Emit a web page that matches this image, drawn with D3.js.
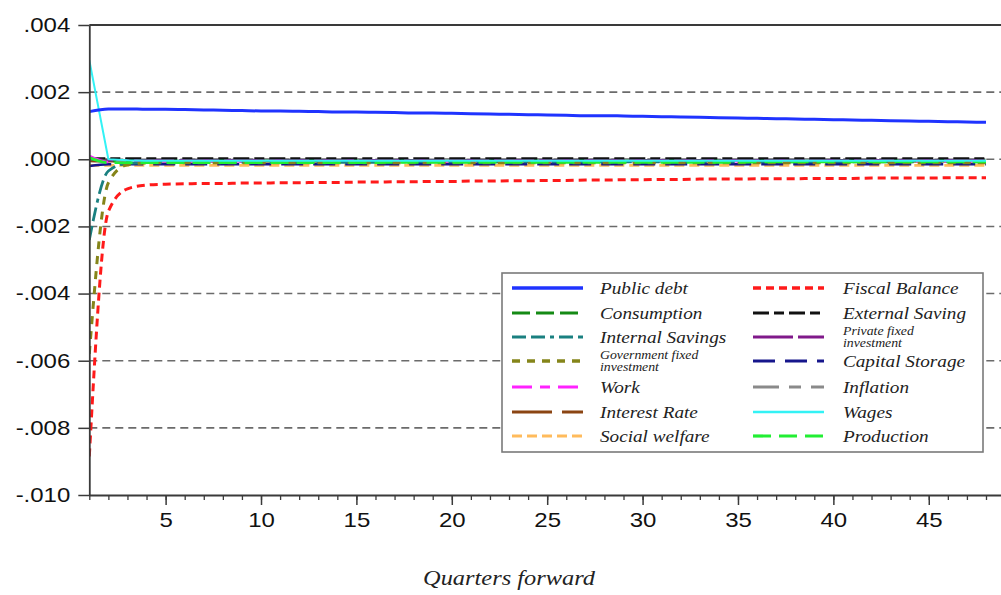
<!DOCTYPE html>
<html>
<head>
<meta charset="utf-8">
<script src="https://cdn.jsdelivr.net/npm/d3@7"></script>
<style>
html,body{margin:0;padding:0;background:#fff;overflow:hidden;}
svg{display:block;}
</style>
</head>
<body>
<svg id="chart" width="1001" height="595"></svg>
<script>
// ---------------- DATA ----------------
const quarters = d3.range(1, 49);
const yTickValues = [0.004, 0.002, 0.000, -0.002, -0.004, -0.006, -0.008, -0.010];
const yTickLabels = [".004", ".002", ".000", "-.002", "-.004", "-.006", "-.008", "-.010"];
const xTickValues = [5, 10, 15, 20, 25, 30, 35, 40, 45];
const xTickLabels = ["5", "10", "15", "20", "25", "30", "35", "40", "45"];
const gridValues = [0.002, 0.000, -0.002, -0.004, -0.006, -0.008];
const xAxisTitle = "Quarters forward";

const publicDebt = [0.00142,0.00150,0.00150,0.00149,0.00149,0.00148,0.00147,0.00146,0.00145,0.00144,
  0.00144,0.00143,0.00142,0.00141,0.00141,0.00140,0.00139,0.00138,0.00138,0.00137,
  0.00136,0.00135,0.00134,0.00133,0.00132,0.00131,0.00130,0.00130,0.00129,0.00128,
  0.00127,0.00126,0.00125,0.00124,0.00123,0.00122,0.00121,0.00120,0.00119,0.00118,
  0.00117,0.00116,0.00115,0.00114,0.00113,0.00112,0.00111,0.00110];
const fiscalBalance = [-0.00885,-0.00155,-0.00088,-0.00077,-0.00074,-0.00073,-0.00072,-0.00072,-0.00071,-0.00071,
  -0.00070,-0.00070,-0.00069,-0.00069,-0.00068,-0.00068,-0.00067,-0.00067,-0.00066,-0.00066,
  -0.00065,-0.00065,-0.00064,-0.00064,-0.00063,-0.00063,-0.00062,-0.00062,-0.00061,-0.00061,
  -0.00060,-0.00060,-0.00059,-0.00059,-0.00059,-0.00058,-0.00058,-0.00058,-0.00057,-0.00057,
  -0.00057,-0.00056,-0.00056,-0.00056,-0.00056,-0.00055,-0.00055,-0.00055];
const internalSavings = [-0.00240,-0.00035,-0.00012,-0.00010,-0.00009,-0.00009,-0.00009,-0.00009,-0.00009,-0.00009,
  -0.00009,-0.00009,-0.00009,-0.00009,-0.00009,-0.00009,-0.00008,-0.00008,-0.00008,-0.00008,
  -0.00008,-0.00008,-0.00008,-0.00008,-0.00008,-0.00008,-0.00008,-0.00008,-0.00008,-0.00008,
  -0.00008,-0.00008,-0.00008,-0.00008,-0.00008,-0.00008,-0.00008,-0.00008,-0.00008,-0.00008,
  -0.00008,-0.00008,-0.00008,-0.00008,-0.00008,-0.00008,-0.00008,-0.00008];
const govFixedInvestment = [-0.00580,-0.00070,-0.00016,-0.00011,-0.00010,-0.00010,-0.00010,-0.00010,-0.00010,-0.00010,
  -0.00010,-0.00010,-0.00010,-0.00010,-0.00010,-0.00010,-0.00010,-0.00010,-0.00010,-0.00010,
  -0.00010,-0.00010,-0.00010,-0.00010,-0.00010,-0.00010,-0.00010,-0.00010,-0.00010,-0.00010,
  -0.00010,-0.00010,-0.00010,-0.00010,-0.00010,-0.00010,-0.00010,-0.00010,-0.00010,-0.00010,
  -0.00010,-0.00010,-0.00010,-0.00010,-0.00010,-0.00010,-0.00010,-0.00010];
const wages = [0.00295,0.00000,-0.00003,-0.00004,-0.00004,-0.00004,-0.00004,-0.00004,-0.00004,-0.00004,
  -0.00004,-0.00004,-0.00004,-0.00004,-0.00004,-0.00004,-0.00004,-0.00004,-0.00004,-0.00004,
  -0.00004,-0.00004,-0.00004,-0.00004,-0.00004,-0.00004,-0.00004,-0.00004,-0.00004,-0.00004,
  -0.00004,-0.00004,-0.00004,-0.00004,-0.00004,-0.00004,-0.00004,-0.00004,-0.00004,-0.00004,
  -0.00004,-0.00004,-0.00004,-0.00004,-0.00004,-0.00004,-0.00004,-0.00004];
const production = [0.00005,-0.00010,-0.00010,-0.00010,-0.00010,-0.00010,-0.00010,-0.00010,-0.00010,-0.00010,
  -0.00010,-0.00010,-0.00010,-0.00010,-0.00010,-0.00010,-0.00009,-0.00009,-0.00009,-0.00009,
  -0.00009,-0.00009,-0.00009,-0.00009,-0.00009,-0.00009,-0.00009,-0.00009,-0.00009,-0.00009,
  -0.00009,-0.00009,-0.00009,-0.00009,-0.00009,-0.00008,-0.00008,-0.00008,-0.00008,-0.00008,
  -0.00008,-0.00008,-0.00008,-0.00008,-0.00008,-0.00008,-0.00008,-0.00008];
const work = [0.00010,-0.00008,-0.00006,-0.00006,-0.00006,-0.00006,-0.00006,-0.00006,-0.00006,-0.00006,
  -0.00006,-0.00006,-0.00006,-0.00006,-0.00006,-0.00006,-0.00006,-0.00006,-0.00006,-0.00006,
  -0.00006,-0.00006,-0.00006,-0.00006,-0.00006,-0.00006,-0.00006,-0.00006,-0.00006,-0.00006,
  -0.00006,-0.00006,-0.00006,-0.00006,-0.00006,-0.00006,-0.00006,-0.00006,-0.00006,-0.00006,
  -0.00006,-0.00006,-0.00006,-0.00006,-0.00006,-0.00006,-0.00006,-0.00006];
const consumption = [0.00002,-0.00005,-0.00005,-0.00005,-0.00005,-0.00005,-0.00005,-0.00005,-0.00005,-0.00005,
  -0.00005,-0.00005,-0.00005,-0.00005,-0.00005,-0.00005,-0.00005,-0.00005,-0.00005,-0.00005,
  -0.00005,-0.00005,-0.00005,-0.00005,-0.00005,-0.00005,-0.00005,-0.00005,-0.00005,-0.00005,
  -0.00005,-0.00005,-0.00005,-0.00005,-0.00005,-0.00005,-0.00005,-0.00005,-0.00005,-0.00005,
  -0.00005,-0.00005,-0.00005,-0.00005,-0.00005,-0.00005,-0.00005,-0.00005];
const externalSaving = [0.00002,0.00002,0.00002,0.00002,0.00002,0.00002,0.00002,0.00002,0.00002,0.00002,
  0.00002,0.00002,0.00002,0.00002,0.00002,0.00002,0.00002,0.00002,0.00002,0.00002,
  0.00002,0.00002,0.00002,0.00002,0.00002,0.00002,0.00002,0.00002,0.00002,0.00002,
  0.00002,0.00002,0.00002,0.00002,0.00002,0.00002,0.00002,0.00002,0.00002,0.00002,
  0.00002,0.00002,0.00002,0.00002,0.00002,0.00002,0.00002,0.00002];
const privateFixedInvestment = [0.00003,-0.00003,-0.00003,-0.00003,-0.00003,-0.00003,-0.00003,-0.00003,-0.00003,-0.00003,
  -0.00003,-0.00003,-0.00003,-0.00003,-0.00003,-0.00003,-0.00003,-0.00003,-0.00003,-0.00003,
  -0.00003,-0.00003,-0.00003,-0.00003,-0.00003,-0.00003,-0.00003,-0.00003,-0.00003,-0.00003,
  -0.00003,-0.00003,-0.00003,-0.00003,-0.00003,-0.00003,-0.00003,-0.00003,-0.00003,-0.00003,
  -0.00003,-0.00003,-0.00003,-0.00003,-0.00003,-0.00003,-0.00003,-0.00003];
const capitalStorage = [-0.00020,-0.00015,-0.00015,-0.00015,-0.00015,-0.00015,-0.00015,-0.00015,-0.00015,-0.00015,
  -0.00015,-0.00015,-0.00015,-0.00015,-0.00015,-0.00015,-0.00015,-0.00015,-0.00015,-0.00015,
  -0.00015,-0.00015,-0.00015,-0.00015,-0.00015,-0.00015,-0.00015,-0.00015,-0.00015,-0.00015,
  -0.00015,-0.00015,-0.00015,-0.00015,-0.00015,-0.00015,-0.00015,-0.00015,-0.00015,-0.00015,
  -0.00015,-0.00015,-0.00015,-0.00015,-0.00015,-0.00015,-0.00015,-0.00015];
const inflation = [0.00000,0.00000,0.00000,0.00000,0.00000,0.00000,0.00000,0.00000,0.00000,0.00000,
  0.00000,0.00000,0.00000,0.00000,0.00000,0.00000,0.00000,0.00000,0.00000,0.00000,
  0.00000,0.00000,0.00000,0.00000,0.00000,0.00000,0.00000,0.00000,0.00000,0.00000,
  0.00000,0.00000,0.00000,0.00000,0.00000,0.00000,0.00000,0.00000,0.00000,0.00000,
  0.00000,0.00000,0.00000,0.00000,0.00000,0.00000,0.00000,0.00000];
const interestRate = [-0.00005,-0.00006,-0.00006,-0.00006,-0.00006,-0.00006,-0.00006,-0.00006,-0.00006,-0.00006,
  -0.00006,-0.00006,-0.00006,-0.00006,-0.00006,-0.00006,-0.00006,-0.00006,-0.00006,-0.00006,
  -0.00006,-0.00006,-0.00006,-0.00006,-0.00006,-0.00006,-0.00006,-0.00006,-0.00006,-0.00006,
  -0.00006,-0.00006,-0.00006,-0.00006,-0.00006,-0.00006,-0.00006,-0.00006,-0.00006,-0.00006,
  -0.00006,-0.00006,-0.00006,-0.00006,-0.00006,-0.00006,-0.00006,-0.00006];
const socialWelfare = [-0.00018,-0.00018,-0.00018,-0.00018,-0.00018,-0.00018,-0.00018,-0.00018,-0.00018,-0.00018,
  -0.00018,-0.00018,-0.00018,-0.00018,-0.00018,-0.00018,-0.00018,-0.00018,-0.00018,-0.00018,
  -0.00018,-0.00018,-0.00018,-0.00018,-0.00018,-0.00018,-0.00018,-0.00018,-0.00018,-0.00018,
  -0.00018,-0.00018,-0.00018,-0.00018,-0.00018,-0.00018,-0.00018,-0.00018,-0.00018,-0.00018,
  -0.00018,-0.00018,-0.00018,-0.00018,-0.00018,-0.00018,-0.00018,-0.00018];

// series: name, values, colour, dash, width (drawing order: back to front)
const series = [
  {key:"sw",  name:"Social welfare",            values:socialWelfare,          color:"#ffbb5c", dash:"10,5",          w:2.6},
  {key:"cs",  name:"Capital Storage",           values:capitalStorage,         color:"#16168c", dash:"22,10",         w:2.6},
  {key:"ir",  name:"Interest Rate",             values:interestRate,           color:"#8b4513", dash:"40,10",         w:2.6},
  {key:"inf", name:"Inflation",                 values:inflation,              color:"#8a8a8a", dash:"26,10,12,10",   w:2.6},
  {key:"es",  name:"External Saving",           values:externalSaving,         color:"#111111", dash:"16,5,10,5",     w:2.6},
  {key:"pfi", name:"Private fixed\ninvestment", values:privateFixedInvestment, color:"#80198a", dash:"40,5",          w:2.6},
  {key:"con", name:"Consumption",               values:consumption,            color:"#158a15", dash:"18,6",          w:2.6},
  {key:"wrk", name:"Work",                      values:work,                   color:"#ff22ff", dash:"20,8,10,8",     w:2.6},
  {key:"is",  name:"Internal Savings",          values:internalSavings,        color:"#1a8080", dash:"14,5,14,5,4,5", w:2.8},
  {key:"gfi", name:"Government fixed\ninvestment", values:govFixedInvestment,  color:"#85851a", dash:"8,7",           w:3},
  {key:"prd", name:"Production",                values:production,             color:"#22ee33", dash:"18,8",          w:2.8},
  {key:"wg",  name:"Wages",                     values:wages,                  color:"#33f2f5", dash:null,            w:2, straight:true},
  {key:"fb",  name:"Fiscal Balance",            values:fiscalBalance,          color:"#ff1a1a", dash:"8,5",           w:3},
  {key:"pd",  name:"Public debt",               values:publicDebt,             color:"#1f33ff", dash:null,            w:3}
];
const legendLeft  = ["pd","con","is","gfi","wrk","ir","sw"];
const legendRight = ["fb","es","pfi","cs","inf","wg","prd"];

// ---------------- CHART ----------------
const svg = d3.select("#chart");
const L = 89.3, T = 25, B = 495;
const x = d3.scaleLinear().domain([1, 48]).range([L, 986]);
const R = x(49);
const y = d3.scaleLinear().domain([-0.010, 0.004]).range([B, T]);

svg.append("defs").append("clipPath").attr("id","plotclip")
  .append("rect").attr("x", L).attr("y", T).attr("width", R - L).attr("height", B - T);

// grid
svg.append("g").selectAll("line").data(gridValues).join("line")
  .attr("x1", L).attr("x2", R)
  .attr("y1", d => y(d)).attr("y2", d => y(d))
  .attr("stroke", "#6b6b6b").attr("stroke-width", 1.6).attr("stroke-dasharray", "8,5");

// lines
const smooth = d3.line().x((d, i) => x(quarters[i])).y(d => y(d)).curve(d3.curveMonotoneX);
const straight = d3.line().x((d, i) => x(quarters[i])).y(d => y(d));
const gLines = svg.append("g").attr("clip-path", "url(#plotclip)");
series.forEach(s => {
  gLines.append("path").datum(s.values)
    .attr("d", s.straight ? straight : smooth).attr("fill", "none")
    .attr("stroke", s.color).attr("stroke-width", s.w)
    .attr("stroke-dasharray", s.dash)
    .attr("stroke-linejoin", "round");
});

// frame top
svg.append("line").attr("x1", L).attr("x2", R + 20).attr("y1", T).attr("y2", T)
  .attr("stroke", "#3a3a3a").attr("stroke-width", 1.8);

// y axis
const yAxis = d3.axisLeft(y).tickValues(yTickValues)
  .tickFormat((d, i) => yTickLabels[i]).tickSize(11).tickSizeOuter(0);
const gy = svg.append("g").attr("transform", `translate(${L},0)`).call(yAxis);
gy.select(".domain").attr("stroke", "#3a3a3a").attr("stroke-width", 1.8);
gy.selectAll(".tick line").attr("stroke", "#3a3a3a").attr("stroke-width", 1.5);
gy.selectAll(".tick text")
  .attr("font-family", "'Liberation Sans', Arial, sans-serif").attr("font-size", 20)
  .attr("fill", "#111").attr("x", -19 / 1.2).attr("transform", "scale(1.2,1)");

// x axis minor
const xMinor = d3.axisBottom(x).tickValues(d3.range(1, 50)).tickSize(5).tickSizeOuter(0).tickFormat("");
const gxm = svg.append("g").attr("transform", `translate(0,${B})`).call(xMinor);
gxm.select(".domain").attr("stroke", "#3a3a3a").attr("stroke-width", 1.8).attr("d", `M${L},0.5H${R + 20}`);
gxm.selectAll(".tick line").attr("stroke", "#3a3a3a").attr("stroke-width", 1.3);

const xAxis = d3.axisBottom(x).tickValues(xTickValues)
  .tickFormat((d, i) => xTickLabels[i]).tickSize(10).tickSizeOuter(0);
const gx = svg.append("g").attr("transform", `translate(0,${B})`).call(xAxis);
gx.select(".domain").remove();
gx.selectAll(".tick line").attr("stroke", "#3a3a3a").attr("stroke-width", 1.5);
gx.selectAll(".tick text")
  .attr("font-family", "'Liberation Sans', Arial, sans-serif").attr("font-size", 20)
  .attr("fill", "#111").attr("y", 18).attr("transform", "scale(1.2,1)");

// axis title
svg.append("text").attr("x", 509 / 1.22).attr("y", 585)
  .attr("transform", "scale(1.22,1)")
  .attr("text-anchor", "middle")
  .attr("font-family", "'Liberation Serif', 'Times New Roman', serif")
  .attr("font-style", "italic").attr("font-size", 20).attr("fill", "#222")
  .text(xAxisTitle);

// legend
const lg = svg.append("g");
lg.append("rect").attr("x", 502).attr("y", 273).attr("width", 481).attr("height", 179)
  .attr("fill", "#fff").attr("stroke", "#7a7a7a").attr("stroke-width", 1.6);
const rowY = [288, 313, 337, 361, 387, 412, 436];
const byKey = Object.fromEntries(series.map(s => [s.key, s]));
function legendCol(keys, x0, x1, tx) {
  keys.forEach((k, i) => {
    const s = byKey[k];
    const cy = rowY[i];
    lg.append("line").attr("x1", x0).attr("x2", x1).attr("y1", cy).attr("y2", cy)
      .attr("stroke", s.color).attr("stroke-width", s.w + 0.4).attr("stroke-dasharray", s.dash);
    const parts = s.name.split("\n");
    if (parts.length === 1) {
      lg.append("text").attr("x", tx / 1.2).attr("y", cy + 6).attr("transform", "scale(1.2,1)")
        .attr("font-family", "'Liberation Serif', 'Times New Roman', serif")
        .attr("font-style", "italic").attr("font-size", 16).attr("fill", "#222").text(parts[0]);
    } else {
      parts.forEach((p, j) => {
        lg.append("text").attr("x", tx / 1.2).attr("y", cy - 2 + j * 12).attr("transform", "scale(1.2,1)")
          .attr("font-family", "'Liberation Serif', 'Times New Roman', serif")
          .attr("font-style", "italic").attr("font-size", 11.5).attr("fill", "#222").text(p);
      });
    }
  });
}
legendCol(legendLeft, 512, 583, 600);
legendCol(legendRight, 753, 824, 843);
</script>
</body>
</html>
